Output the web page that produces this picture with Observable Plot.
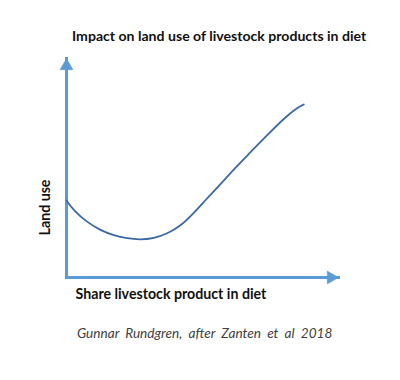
<!DOCTYPE html>
<html>
<head>
<meta charset="utf-8">
<script src="https://cdn.jsdelivr.net/npm/d3@7"></script>
<script src="https://cdn.jsdelivr.net/npm/@observablehq/plot@0.6"></script>
<style>
  html, body { margin: 0; padding: 0; background: #fff; }
  body { width: 400px; height: 380px; overflow: hidden; font-family: Lato, "Open Sans", sans-serif; }
  #title { height: 50px; box-sizing: border-box; padding: 28px 0 0 72px; line-height: 16px; font-size: 14.1px; font-weight: bold; color: #111; white-space: nowrap; }
  #chart svg { display: block; }
  #caption { padding: 15px 0 0 77px; line-height: 16px; font-size: 13.6px; font-style: italic; color: #404040; word-spacing: 3px; white-space: nowrap; }
</style>
</head>
<body>
<div id="title">Impact on land use of livestock products in diet</div>
<div id="chart"></div>
<div id="caption">Gunnar Rundgren, after Zanten et al 2018</div>
<script>
// Data (arbitrary units, 0–100)
const shareLivestock = [0, 2.68, 7.57, 12.5, 17.39, 22.32, 27.21, 32.1, 37.02, 41.91, 46.58, 51.47, 56.62, 62.13, 67.39, 73.16, 80.51, 85.4, 87.24];
const landUse = [35.16, 30.59, 25.25, 21.55, 19.18, 17.81, 17.21, 17.9, 19.95, 23.52, 29.13, 35.84, 42.56, 50.23, 56.85, 64.25, 73.38, 77.95, 79.0];
const axisMin = 0;
const axisMax = 100;
const xLabel = "Share livestock product in diet";
const yLabel = "Land use";

const curve = shareLivestock.map((x, i) => ({x, y: landUse[i]}));
const axes = [
  {x1: axisMin, y1: axisMin, x2: axisMax, y2: axisMin, dir: "x"},
  {x1: axisMin, y1: axisMin, x2: axisMin, y2: axisMax, dir: "y"}
];
const axisBlue = "#5b9bd5";

const plot = Plot.plot({
  width: 400,
  height: 260,
  marginTop: 8,
  marginLeft: 66,
  marginRight: 62,
  marginBottom: 33,
  x: {domain: [axisMin, axisMax], axis: null},
  y: {domain: [axisMin, axisMax], axis: null},
  style: {fontFamily: "Lato, 'Open Sans', sans-serif"},
  marks: [
    Plot.link(axes, {x1: "x1", y1: "y1", x2: "x2", y2: "y2", stroke: axisBlue, strokeWidth: 3, strokeLinecap: "square"}),
    Plot.dot(axes.filter(d => d.dir === "y"), {x: "x2", y: "y2", symbol: "triangle", r: 4.8, fill: axisBlue, stroke: axisBlue, strokeWidth: 0.5, dy: 7.5}),
    Plot.dot(axes.filter(d => d.dir === "x"), {x: "x2", y: "y2", symbol: "triangle", r: 4.8, fill: axisBlue, stroke: axisBlue, strokeWidth: 0.5, rotate: 90, dx: -7.5}),
    Plot.line(curve, {x: "x", y: "y", curve: "basis", stroke: "#3a69a4", strokeWidth: 1.8}),
    Plot.text([xLabel], {frameAnchor: "bottom-left", textAnchor: "start", lineAnchor: "middle", dx: 9, dy: 17, fontSize: 14.2, fontWeight: "bold", fill: "#111"}),
    Plot.text([yLabel], {frameAnchor: "bottom-left", textAnchor: "middle", lineAnchor: "middle", rotate: -90, dx: -21, dy: -70, fontSize: 14.2, fontWeight: "bold", fill: "#111"})
  ]
});
document.getElementById("chart").appendChild(plot);
</script>
</body>
</html>
